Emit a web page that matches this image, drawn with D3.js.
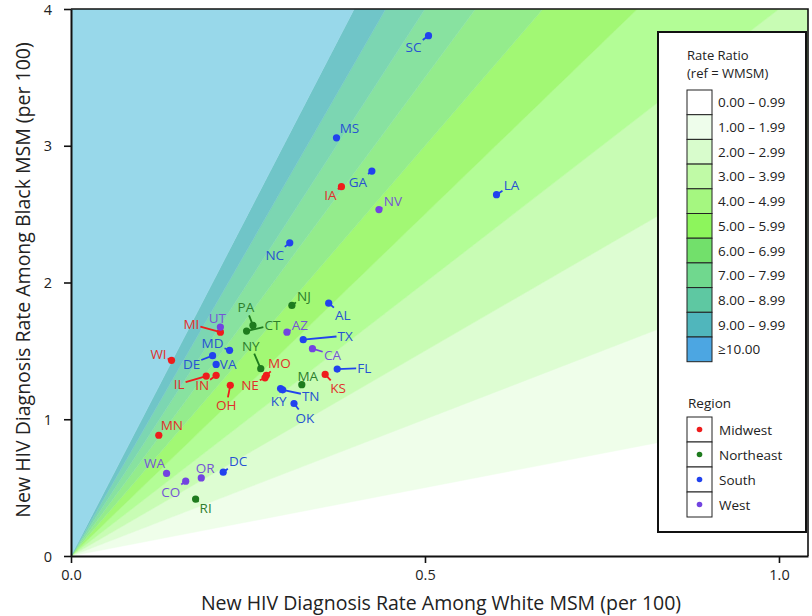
<!DOCTYPE html>
<html><head><meta charset="utf-8">
<script src="https://cdn.jsdelivr.net/npm/d3@7"></script>
<style>
body{margin:0;background:#fff}
svg{display:block}
text{font-family:"Open Sans","Noto Sans",sans-serif}
</style>
</head><body>
<svg id="chart" width="812" height="616"></svg>
<script>
// ---------- DATA ----------
const states = ["SC","MS","GA","IA","NV","LA","NC","MI","UT","MD","DE","VA","WI","IL","IN","PA","CT","NY","MO","NE","OH","NJ","AL","AZ","TX","CA","FL","MA","KS","KY","TN","OK","MN","WA","CO","OR","DC","RI"];
const regionOf = ["South","South","South","Midwest","West","South","South","Midwest","West","South","South","South","Midwest","Midwest","Midwest","Northeast","Northeast","Northeast","Midwest","Midwest","Midwest","Northeast","South","West","South","West","South","Northeast","Midwest","South","South","South","Midwest","West","West","West","South","Northeast"];
const whiteRate = [0.505,0.375,0.425,0.382,0.435,0.601,0.309,0.211,0.211,0.224,0.200,0.205,0.142,0.191,0.205,0.257,0.248,0.268,0.276,0.274,0.225,0.312,0.364,0.305,0.328,0.341,0.376,0.326,0.359,0.296,0.299,0.315,0.124,0.135,0.162,0.184,0.215,0.176];
const blackRate = [3.805,3.058,2.815,2.701,2.533,2.642,2.290,1.637,1.674,1.504,1.465,1.401,1.431,1.316,1.321,1.686,1.645,1.370,1.321,1.303,1.248,1.832,1.849,1.637,1.582,1.516,1.367,1.253,1.328,1.224,1.215,1.115,0.883,0.604,0.547,0.571,0.613,0.416];
// label placement offsets (px, relative to the point)
const labelDx = [-15,13,-14,-11,14,15,-15,-29,-3,-17,-21,12,-13,-27,-14,-7,26,-10,13,-15,-4,12,14,13,42,20,27,6,13,-2,28,11,13,-12,-15,4,15,10];
const labelDy = [11,-10,11,8,-9,-10,12,-8,-9,-7,8,0,-6,8,10,-18,-6,-23,-12,7,20,-9,12,-7,-4,6,-1,-9,14,12,6,14,-10,-10,11,-10,-11,9];

const regions = ["Midwest","Northeast","South","West"];
const regionDotColors = ["#ee1c1c","#1e7b1e","#2142ee","#7244e0"];
const regionTextColors = ["#e0302a","#2d7f2d","#2753d2","#7654d6"];

const ratioBreaks = [0,1,2,3,4,5,6,7,8,9,10];
const ratioLabels = ["0.00 \u2013 0.99","1.00 \u2013 1.99","2.00 \u2013 2.99","3.00 \u2013 3.99","4.00 \u2013 4.99","5.00 \u2013 5.99","6.00 \u2013 6.99","7.00 \u2013 7.99","8.00 \u2013 8.99","9.00 \u2013 9.99","\u226510.00"];
const bandColors = ["#ffffff","#effeea","#ddfdd2","#c8fcb4","#b3fd96","#a2f874","#94ec8c","#88e2a0","#7cd6b2","#70c5c8","#98d8ea"];
const legendColors = ["#ffffff","#eefdeb","#d8fccc","#c0faa6","#a5f780","#8df55c","#72e06b","#70d88e","#5ec8a2","#50b6bc","#4ca6e2"];

const xTicks = [0, 0.5, 1.0];
const yTicks = [0, 1, 2, 3, 4];

// ---------- LAYOUT ----------
const svg = d3.select("#chart");
const L = 71, R = 808, T = 9, B = 556;
const x = d3.scaleLinear().domain([0, 1.041]).range([L, R]);
const y = d3.scaleLinear().domain([0, 4]).range([B, T]);

svg.append("defs").append("clipPath").attr("id","plotclip")
  .append("rect").attr("x",L).attr("y",T).attr("width",R-L).attr("height",B-T);

// wedges
const gW = svg.append("g").attr("clip-path","url(#plotclip)");
const XF = 3;
ratioBreaks.forEach((k,i)=>{
  let pts;
  if (i < ratioBreaks.length-1) {
    const k2 = ratioBreaks[i+1];
    pts = [[0,0],[XF,k*XF],[XF,k2*XF]];
  } else {
    pts = [[0,0],[XF,k*XF],[0,k*XF]];
  }
  gW.append("path")
    .attr("d", "M" + pts.map(p=>[x(p[0]),y(p[1])].join(",")).join("L") + "Z")
    .attr("fill", bandColors[i]).attr("stroke", bandColors[i]).attr("stroke-width",0.5);
});

// frame (top & right)
svg.append("path").attr("d",`M${L},${T}H${R}V${B}`).attr("fill","none").attr("stroke","#111").attr("stroke-width",1.6);

// points
const data = states.map((s,i)=>({s, r: regions.indexOf(regionOf[i]), wx: whiteRate[i], by: blackRate[i], dx: labelDx[i], dy: labelDy[i]}));
const gL = svg.append("g"), gP = svg.append("g"), gT = svg.append("g");
data.forEach(d=>{
  const px = x(d.wx), py = y(d.by);
  const lx = px + d.dx, ly = py + d.dy;
  const t = gT.append("text").attr("x",lx).attr("y",ly)
    .attr("text-anchor","middle").attr("dominant-baseline","central")
    .attr("font-size",13.5).attr("fill",regionTextColors[d.r]).text(d.s);
  const bb = t.node().getBBox();
  const hw = bb.width/2 + 1, hh = bb.height/2 - 1;
  const vx = lx - px, vy = ly - py;
  let tt = Math.min(vx ? hw/Math.abs(vx) : Infinity, vy ? hh/Math.abs(vy) : Infinity);
  tt = Math.min(tt, 1);
  const ex = lx - vx*tt, ey = ly - vy*tt;
  gL.append("line").attr("x1",px).attr("y1",py).attr("x2",ex).attr("y2",ey)
    .attr("stroke",regionDotColors[d.r]).attr("stroke-width",1.8);
  gP.append("circle").attr("cx",px).attr("cy",py).attr("r",3.6).attr("fill",regionDotColors[d.r]);
});

// axes
const xAxis = svg.append("g").attr("transform",`translate(0,${B})`)
  .call(d3.axisBottom(x).tickValues(xTicks).tickFormat(d3.format(".1f")).tickSize(7).tickSizeOuter(0).tickPadding(7));
const yAxis = svg.append("g").attr("transform",`translate(${L},0)`)
  .call(d3.axisLeft(y).tickValues(yTicks).tickFormat(d3.format("d")).tickSize(7).tickSizeOuter(0).tickPadding(12));
[xAxis,yAxis].forEach(a=>{
  a.select(".domain").attr("stroke","#111").attr("stroke-width",2);
  a.selectAll(".tick line").attr("stroke","#111").attr("stroke-width",1.6);
  a.selectAll(".tick text").attr("font-size",14.5).attr("fill","#222").style("font-family","'Open Sans',sans-serif");
});
yAxis.selectAll(".tick text").attr("dy","0.36em");

svg.append("text").attr("x",441).attr("y",610).attr("text-anchor","middle")
  .attr("font-size",19.5).attr("fill","#222").text("New HIV Diagnosis Rate Among White MSM (per 100)");
svg.append("text").attr("transform",`translate(22,280) rotate(-90)`).attr("text-anchor","middle")
  .attr("dominant-baseline","central").attr("font-size",19.5).attr("fill","#222")
  .text("New HIV Diagnosis Rate Among Black MSM (per 100)");

// legend
const lg = svg.append("g");
lg.append("rect").attr("x",658).attr("y",32).attr("width",148).attr("height",500)
  .attr("fill","#fff").attr("stroke","#111").attr("stroke-width",2);
lg.append("text").attr("x",687).attr("y",60).attr("font-size",13).attr("fill","#222").text("Rate Ratio");
lg.append("text").attr("x",687).attr("y",78).attr("font-size",13).attr("fill","#222").text("(ref = WMSM)");
const sw = 24.7, sx = 687, sy0 = 90;
ratioLabels.forEach((lab,i)=>{
  lg.append("rect").attr("x",sx).attr("y",sy0+i*sw).attr("width",25).attr("height",sw)
    .attr("fill",legendColors[i]).attr("stroke","#222").attr("stroke-width",1);
  lg.append("text").attr("x",718).attr("y",sy0+i*sw+sw/2).attr("dominant-baseline","central")
    .attr("font-size",13.5).attr("fill","#222").text(lab);
});
lg.append("text").attr("x",688).attr("y",408).attr("font-size",13.5).attr("fill","#222").text("Region");
const ry0 = 417;
regions.forEach((rg,i)=>{
  lg.append("rect").attr("x",sx).attr("y",ry0+i*25).attr("width",25).attr("height",25)
    .attr("fill","#fff").attr("stroke","#222").attr("stroke-width",1);
  lg.append("circle").attr("cx",sx+12.5).attr("cy",ry0+i*25+12.5).attr("r",2.8).attr("fill",regionDotColors[i]);
  lg.append("text").attr("x",719).attr("y",ry0+i*25+13).attr("dominant-baseline","central")
    .attr("font-size",13.5).attr("fill","#222").text(rg);
});
</script>
</body></html>
